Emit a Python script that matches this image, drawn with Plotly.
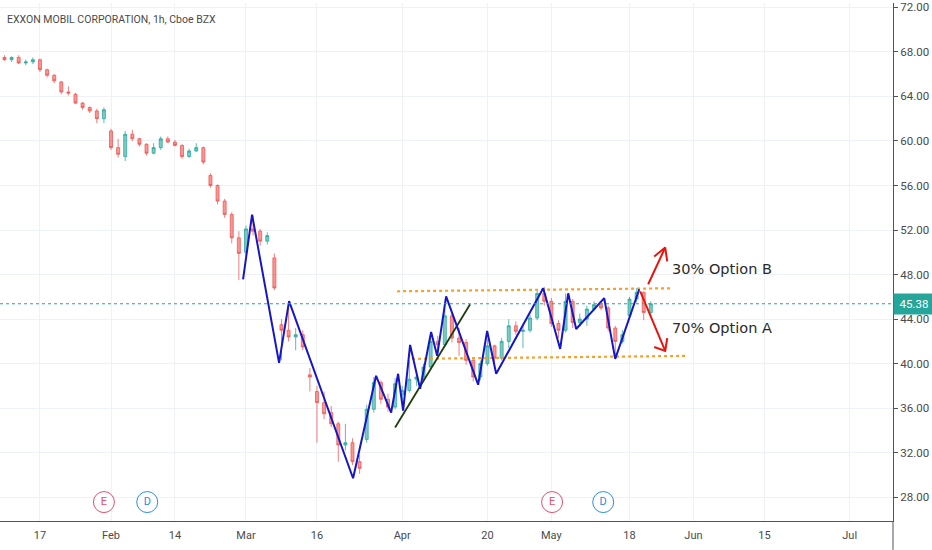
import plotly.graph_objects as go

# ---- data (x = trading-day index, 0 = Jan 17 2020) ----
days = list(range(-5, 87))
opens = [67.5, 67.3, 67.5, 67.0, 67.1, 67.3, 66.4, 65.9, 65.3, 64.4, 64.2, 63.4, 63.0, 62.7, 62.0,
         60.9, 59.4, 58.6, 60.6, 60.2, 59.7, 58.9, 59.4, 60.2, 59.9, 59.6, 58.6, 59.1, 59.4,
         56.9, 56.0, 54.6, 53.4, 51.3, 50.0, 52.1, 51.9, 51.0, 49.5, 43.5, 43.0, 42.4, 42.6,
         39.0, 37.5, 36.5, 35.6, 34.6, 32.7, 32.9, 31.2, 33.2, 35.9, 38.3, 36.8, 36.1, 37.2,
         37.6, 38.6, 38.8, 39.7, 42.0, 41.7, 44.3, 42.3, 41.9, 40.3, 38.8, 40.0, 41.6, 40.5,
         42.0, 43.4, 42.9, 43.0, 44.1, 46.3, 45.6, 43.6, 43.0, 45.6, 43.7, 44.0, 44.9, 45.3,
         45.0, 43.2, 42.0, 44.3, 45.8, 46.4, 44.6]
highs = [67.7, 67.6, 67.7, 67.3, 67.5, 67.4, 66.5, 66.0, 65.4, 64.9, 64.3, 63.5, 63.1, 62.9, 63.0,
         61.1, 60.2, 60.9, 61.0, 60.3, 59.8, 59.8, 60.4, 60.4, 60.1, 59.7, 59.3, 59.8, 59.5,
         57.1, 56.1, 54.8, 53.6, 51.9, 52.4, 53.3, 52.1, 51.8, 49.9, 44.0, 45.3, 43.2, 43.0,
         39.6, 38.0, 37.5, 36.2, 34.8, 34.6, 33.3, 31.8, 36.3, 38.8, 38.5, 37.3, 38.7, 38.0,
         40.3, 39.4, 40.0, 42.3, 42.5, 45.0, 44.6, 43.2, 42.2, 40.5, 40.3, 42.2, 41.7, 42.3,
         44.0, 43.8, 43.4, 44.4, 46.6, 46.9, 45.9, 43.9, 46.3, 45.8, 44.5, 45.2, 45.6, 45.6,
         45.2, 43.4, 43.0, 46.0, 46.8, 46.5, 45.6]
lows = [67.2, 67.1, 66.9, 66.8, 66.9, 66.2, 65.7, 65.2, 64.2, 64.1, 63.3, 62.8, 62.5, 61.6, 61.6,
        59.2, 58.5, 58.2, 60.0, 59.5, 58.7, 58.8, 59.2, 59.8, 59.5, 58.4, 58.5, 59.0, 57.9,
        55.8, 54.3, 53.1, 50.8, 47.5, 49.7, 51.5, 50.6, 50.7, 46.6, 40.3, 42.0, 41.2, 41.2,
        37.5, 32.9, 35.0, 34.3, 31.2, 32.2, 30.9, 30.1, 32.9, 35.6, 36.4, 35.7, 35.9, 36.6,
        37.4, 38.0, 38.5, 39.5, 41.0, 41.5, 41.9, 40.7, 39.9, 38.4, 38.5, 39.8, 40.0, 40.3,
        41.4, 42.6, 41.4, 42.8, 43.9, 45.2, 43.3, 42.3, 42.8, 43.2, 43.3, 43.4, 44.7, 44.8,
        42.9, 40.5, 41.8, 44.0, 45.5, 43.9, 44.3]
closes = [67.3, 67.5, 67.0, 67.1, 67.3, 66.4, 65.9, 65.4, 64.4, 64.3, 63.4, 63.0, 62.7, 62.0, 62.8,
          59.4, 58.8, 60.6, 60.2, 59.7, 58.9, 59.4, 60.2, 59.9, 59.6, 58.6, 59.1, 59.4, 58.1,
          56.0, 54.6, 53.4, 51.3, 49.9, 52.1, 51.9, 51.0, 51.5, 46.8, 43.0, 42.4, 42.6, 41.5,
          38.8, 36.5, 35.5, 34.6, 32.7, 32.9, 31.2, 30.6, 35.9, 38.3, 36.8, 36.1, 38.2, 37.6,
          38.6, 38.8, 39.7, 42.0, 41.7, 44.3, 42.3, 41.9, 40.3, 38.8, 40.0, 41.6, 40.5, 42.0,
          43.4, 42.9, 43.0, 44.1, 46.3, 45.6, 43.6, 43.0, 45.6, 43.7, 44.0, 44.9, 45.3, 45.0,
          43.2, 42.0, 42.6, 45.8, 46.4, 44.6, 45.38]

last_price = 45.38

# tick labels
x_tick_pos = [0, 10, 19, 29, 39, 51, 63, 72, 83, 92, 102, 114]
x_tick_text = ["17", "Feb", "14", "Mar", "16", "Apr", "20", "May", "18", "Jun", "15", "Jul"]
y_ticks = [28, 32, 36, 40, 44, 48, 52, 56, 60, 64, 68, 72]

# drawings
zigzag_x = [28.59, 29.86, 33.66, 35.07, 44.08, 47.32, 49.44, 50.42, 51.13, 52.11, 53.52, 55.07,
            55.92, 57.18, 61.69, 62.96, 64.23, 70.85, 73.24, 74.37, 75.49, 79.44, 80.99, 84.37]
zigzag_y = [47.57, 53.38, 40.07, 45.61, 29.71, 38.91, 35.61, 39.09, 35.79, 41.68, 37.75, 42.84,
            40.70, 46.05, 38.11, 42.93, 39.09, 46.77, 41.32, 46.32, 43.11, 45.88, 40.43, 46.68]
trend_x = [50.0, 60.56]
trend_y = [34.27, 45.34]
upper_x = [50.28, 88.73]
upper_y = [46.50, 46.77]
lower_x = [52.39, 90.99]
lower_y = [40.43, 40.70]
arrow_up_x = [85.63, 88.03, None, 86.48, 88.03, 88.31]
arrow_up_y = [47.13, 50.43, None, 49.63, 50.43, 49.18]
arrow_dn_x = [84.51, 88.03, None, 86.48, 88.03, 88.31]
arrow_dn_y = [46.50, 41.14, None, 41.50, 41.14, 42.30]
label_x = [89.0, 89.0]
label_y = [48.38, 43.11]
label_text = ["30% Option B", "70% Option A"]

events_x = [9.0, 15.1, 72.1, 79.3]
events_y = [27.57, 27.57, 27.57, 27.57]
events_text = ["E", "D", "E", "D"]
events_color = ["#e0506e", "#2a8fe0", "#e0506e", "#2a8fe0"]

FONT = "Roboto, sans-serif"
TEXT_FONT = "DejaVu Sans, sans-serif"

fig = go.Figure()
fig.add_trace(go.Candlestick(
    x=days, open=opens, high=highs, low=lows, close=closes,
    increasing=dict(line=dict(color="rgba(38,166,154,0.75)", width=1), fillcolor="rgba(38,166,154,0.6)"),
    decreasing=dict(line=dict(color="rgba(239,83,80,0.75)", width=1), fillcolor="rgba(239,83,80,0.6)"),
    whiskerwidth=0, showlegend=False, hoverinfo="skip"))

fig.add_trace(go.Scatter(x=upper_x, y=upper_y, mode="lines",
                         line=dict(color="#f5a02a", width=2.2, dash="dot"), showlegend=False))
fig.add_trace(go.Scatter(x=lower_x, y=lower_y, mode="lines",
                         line=dict(color="#f5a02a", width=2.2, dash="dot"), showlegend=False))
fig.add_trace(go.Scatter(x=trend_x, y=trend_y, mode="lines",
                         line=dict(color="#1f3d0c", width=1.8), showlegend=False))
fig.add_trace(go.Scatter(x=zigzag_x, y=zigzag_y, mode="lines",
                         line=dict(color="#1616c4", width=2), showlegend=False))
fig.add_trace(go.Scatter(x=arrow_up_x, y=arrow_up_y, mode="lines",
                         line=dict(color="#e8150f", width=2), showlegend=False))
fig.add_trace(go.Scatter(x=arrow_dn_x, y=arrow_dn_y, mode="lines",
                         line=dict(color="#e8150f", width=2), showlegend=False))
fig.add_trace(go.Scatter(x=label_x, y=label_y, mode="text", text=label_text,
                         textposition="middle right",
                         textfont=dict(family=TEXT_FONT, size=14.5, color="#2a2a2a"), showlegend=False))
fig.add_trace(go.Scatter(x=events_x, y=events_y, mode="markers+text", text=events_text,
                         marker=dict(symbol="circle", size=21, color="white",
                                     line=dict(color=events_color, width=1)),
                         textfont=dict(family=FONT, size=11, color=events_color),
                         textposition="middle center", showlegend=False))

# last price line
fig.add_shape(type="line", xref="paper", x0=0, x1=1, yref="y", y0=last_price, y1=last_price,
              line=dict(color="#26a69a", width=1, dash="dot"))
# y axis line extension down to the bottom
fig.add_shape(type="line", xref="paper", x0=1, x1=1, yref="paper", y0=0, y1=-29/521,
              line=dict(color="#50535e", width=1))

fig.add_annotation(xref="paper", x=1, y=last_price, yref="y", text=f"{last_price:.2f}",
                   showarrow=False, xanchor="left", bgcolor="#26a69a",
                   font=dict(family=FONT, size=11.5, color="white"), width=36, height=16, borderpad=2)
fig.add_annotation(xref="paper", yref="paper", x=7/893, y=1-17/521,
                   text="EXXON MOBIL CORPORATION, 1h, Cboe BZX", showarrow=False,
                   xanchor="left", yanchor="middle", xshift=-2,
                   font=dict(family=FONT, size=10.5, color="#4a4a4a"))

fig.update_layout(
    width=932, height=550, margin=dict(l=0, r=39, t=0, b=29),
    paper_bgcolor="white", plot_bgcolor="white", boxgap=0.4,
    font=dict(family=FONT, size=11, color="#4a4a4a"),
    xaxis=dict(type="linear", range=[-5.63, 120.1], tickmode="array", tickvals=x_tick_pos,
               ticktext=x_tick_text, showgrid=True, gridcolor="#eef1f6", zeroline=False,
               showline=True, linecolor="#50535e", linewidth=1, ticks="",
               rangeslider=dict(visible=False), ticklabelstandoff=4,
               tickfont=dict(family=FONT, size=11, color="#4a4a4a")),
    yaxis=dict(side="right", range=[25.87, 72.39], tickmode="array", tickvals=y_ticks,
               ticktext=[f"{v:.2f}" for v in y_ticks], showgrid=True, gridcolor="#eef1f6",
               zeroline=False, showline=True, linecolor="#50535e", linewidth=1,
               ticks="outside", ticklen=4, tickcolor="#50535e", ticklabeloverflow="allow",
               tickfont=dict(family=FONT, size=11.5, color="#4a4a4a")),
    hovermode=False,
)

fig.write_html("out.html", config={"displayModeBar": False},
               post_script="document.body.style.margin='0px';")
